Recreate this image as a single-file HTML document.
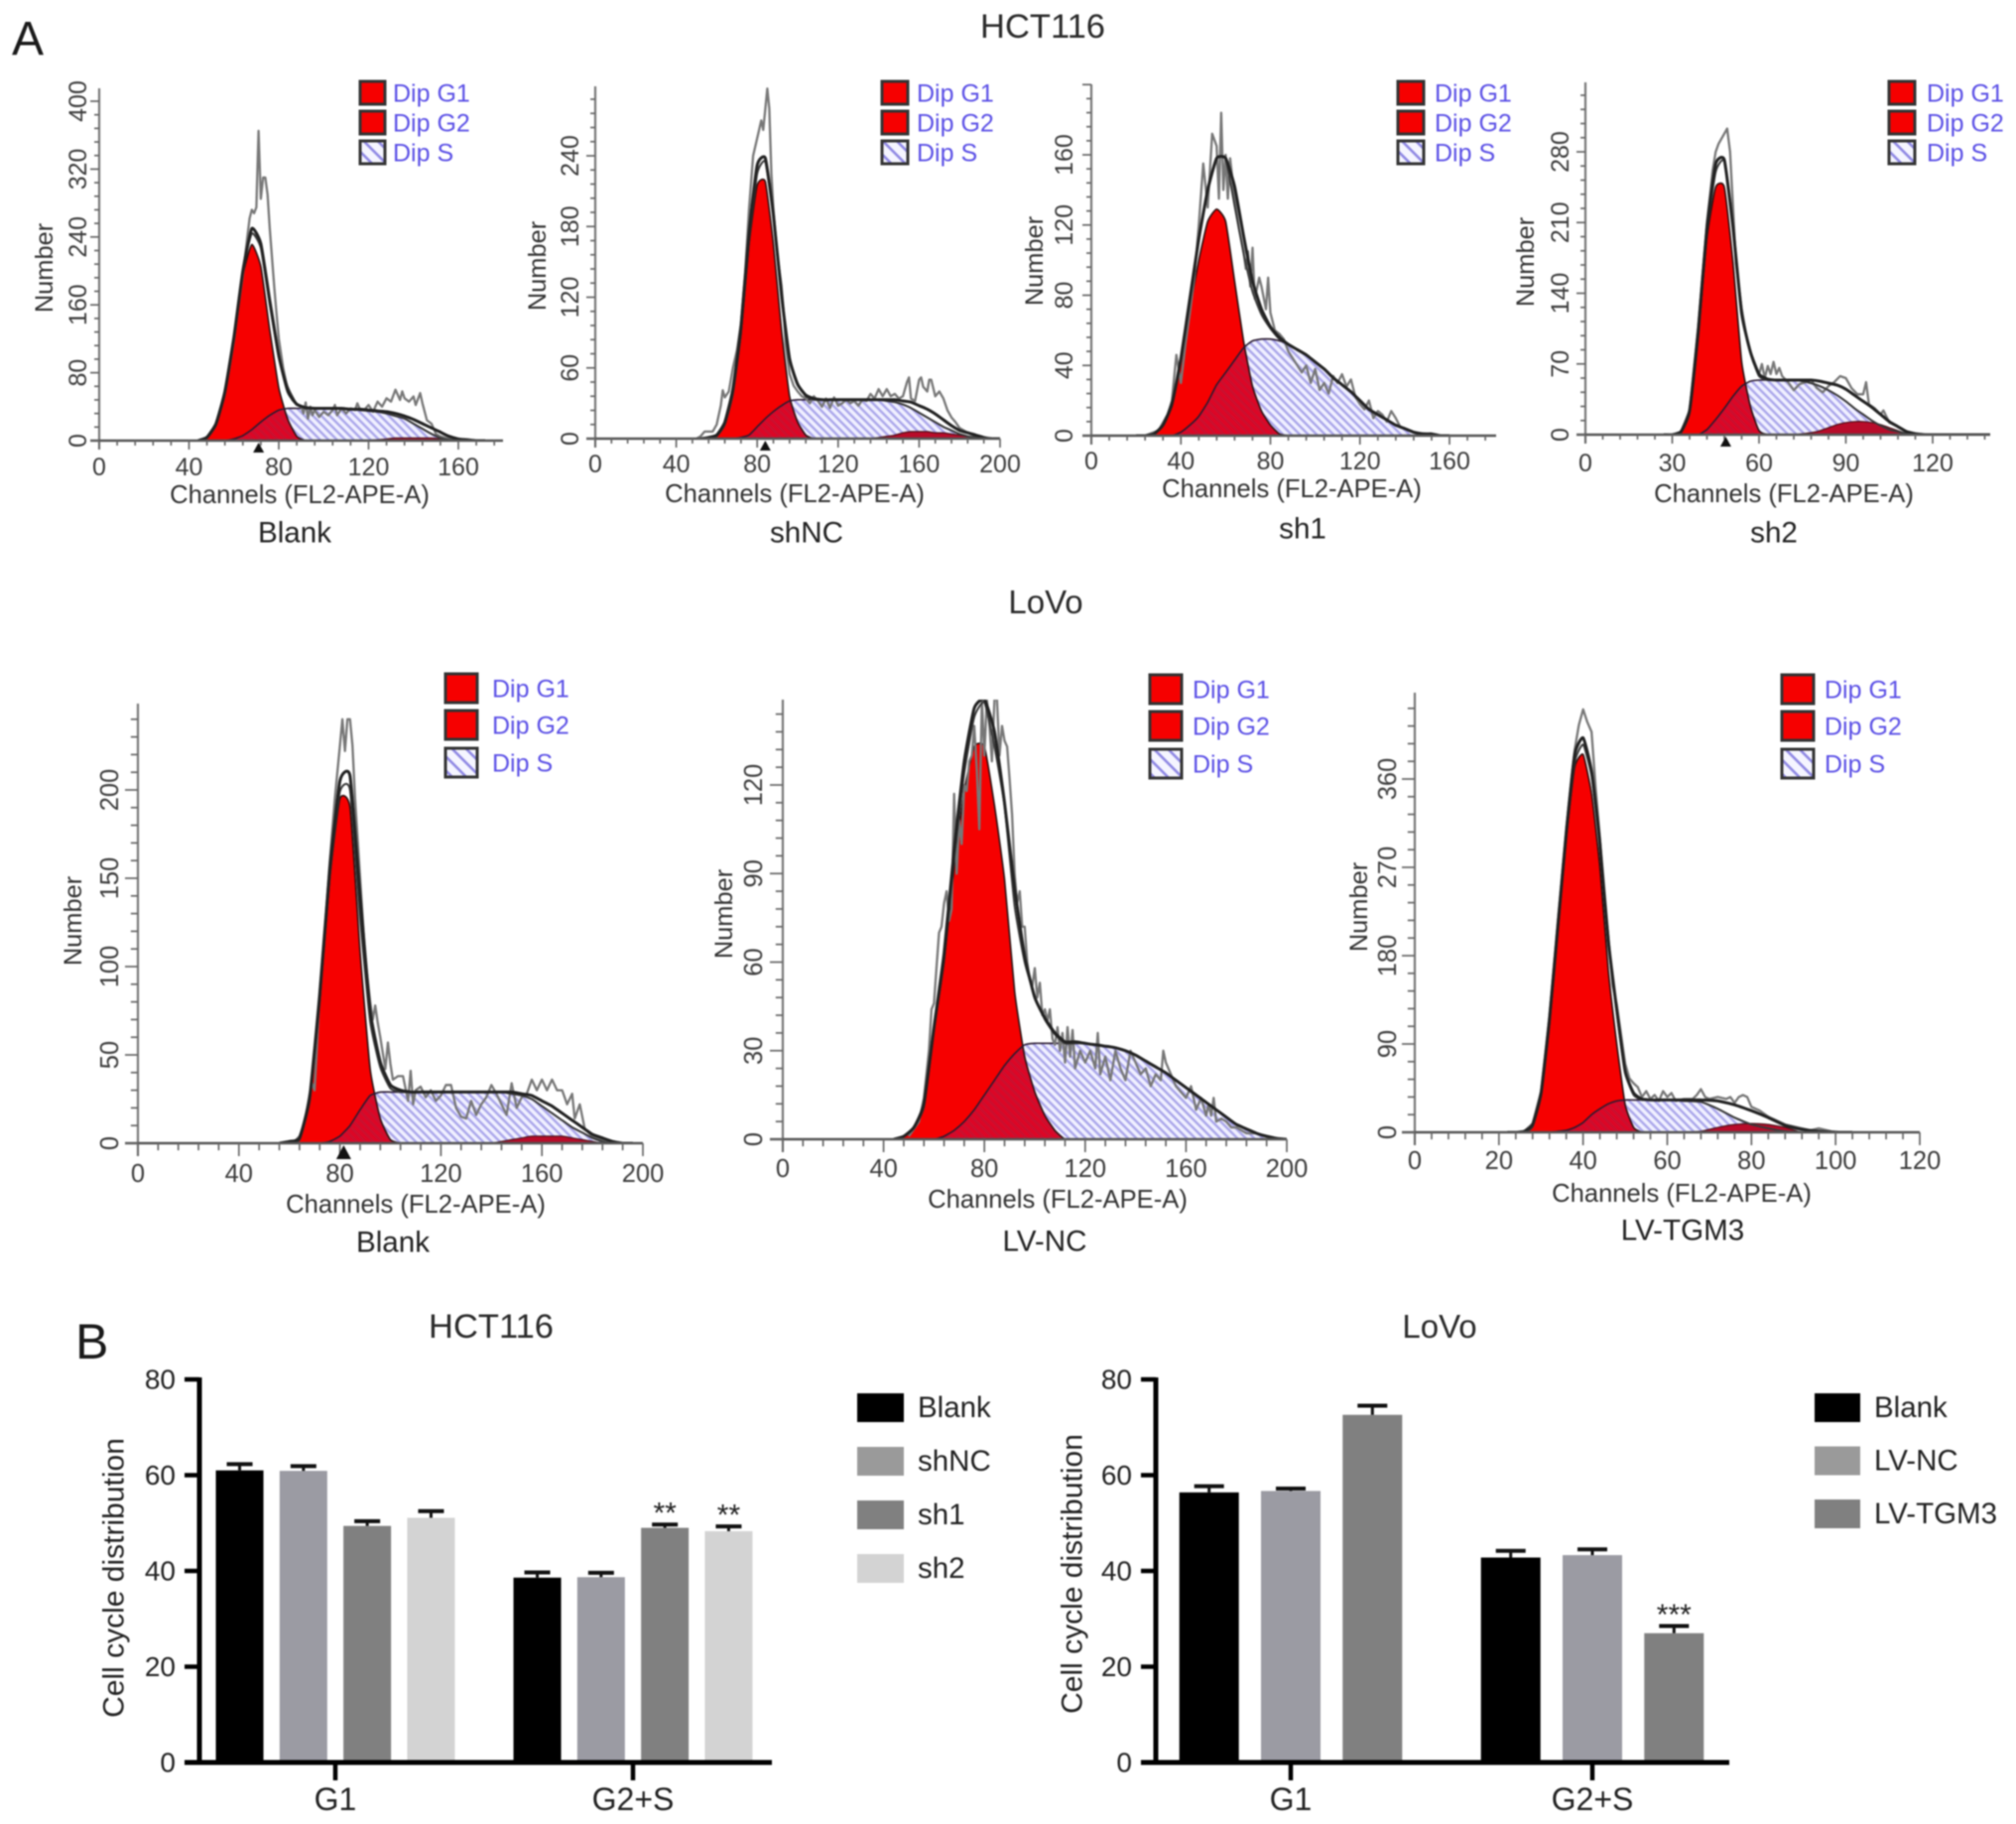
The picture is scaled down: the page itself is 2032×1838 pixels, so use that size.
<!DOCTYPE html>
<html lang="en">
<head>
<meta charset="utf-8">
<title>HCT116 and LoVo cell cycle distribution</title>
<style>
html,body{margin:0;padding:0;background:#fff;width:2032px;height:1838px;overflow:hidden}
svg{display:block;filter:blur(0.75px)}
text{font-family:"Liberation Sans",sans-serif}
</style>
</head>
<body>
<svg id="figure" xmlns="http://www.w3.org/2000/svg" width="2032" height="1838" viewBox="0 0 2032 1838">
  <defs>
    <pattern id="hatch" width="6" height="6" patternUnits="userSpaceOnUse" patternTransform="rotate(45)">
      <rect width="6" height="6" fill="#f0f0ff"/>
      <rect width="6" height="2.4" fill="#aaa6ea"/>
    </pattern>
    <pattern id="hatch-legend" width="10" height="10" patternUnits="userSpaceOnUse" patternTransform="rotate(45)">
      <rect width="10" height="10" fill="#f5f5ff"/>
      <rect width="10" height="2.6" fill="#8f88e4"/>
    </pattern>
    <pattern id="hatch-dark" width="6" height="6" patternUnits="userSpaceOnUse" patternTransform="rotate(45)">
      <rect width="6" height="6" fill="#dc0626"/>
      <rect width="6" height="2.4" fill="#c9102f"/>
    </pattern>
  </defs>
  <text x="12" y="55" font-size="48" fill="#1a1a1a">A</text>
  <text x="1051" y="38" font-size="34.5" fill="#2a2a2a" text-anchor="middle">HCT116</text>
  <text x="1054" y="618" font-size="33" fill="#2a2a2a" text-anchor="middle">LoVo</text>
  <text x="76" y="1369" font-size="50" fill="#1a1a1a">B</text>
  <text x="495" y="1348" font-size="34.5" fill="#2a2a2a" text-anchor="middle">HCT116</text>
  <text x="1451" y="1348" font-size="33" fill="#2a2a2a" text-anchor="middle">LoVo</text>
</svg>
<script>
// ---- Histogram data (channel / count values) ----
const blankChannels = [44,48,52,56,60,64,68,72,76,80,84,88,92,96,100,104,108,112,116,120,124,128,132,136,140,144,148,152,156,160,164,168,172];
const blankG1 = [0,3,18,55,118,195,231,205,130,62,25,5,0,0,0,0,0,0,0,0,0,0,0,0,0,0,0,0,0,0,0,0,0];
const blankS = [0,0,0,0,2,6,13,22,30,36,38,38,38,38,38,38,38,37,36,35,34,32,29,26,20,14,8,3,1,0,0,0,0];
const blankG2 = [0,0,0,0,0,0,0,0,0,0,0,0,0,0,0,0,0,0,0,0.5,1,2,3,3,3,3,3,2,0.5,0,0,0,0];
const blankFit = [0,4,20,58,122,200,250,232,165,100,58,43,39,38,38,38,38,37,37,36,35,34,32,29,25,20,15,10,5,2,1,0,0];
const blankRawCh = [44,46,48,50,52,54,56,58,60,62,64,66,67,68,69,70,71,72,73,74,75,76,77,78,79,80,82,84,86,88,90,91,92,93,94,95,96,98,100,102,104,105,106,108,110,112,114,115,116,118,120,122,124,126,128,130,132,134,135,136,138,140,141,143,144,146,148,150,152,156,160];
const blankRaw = [0,1,4,10,20,36,56,85,118,158,195,240,262,272,268,275,365,285,310,310,290,250,215,180,150,120,85,60,48,42,40,32,45,26,40,30,36,28,34,30,36,42,30,38,32,38,36,44,38,36,42,34,46,40,50,46,60,48,58,50,46,52,42,56,44,24,20,8,5,2,0];
const blankXTicks = [0,40,80,120,160];
const blankYTicks = [0,80,160,240,320,400];

const shncChannels = [52,56,60,64,68,72,76,80,84,88,92,96,100,104,108,112,116,120,124,128,132,136,140,144,148,152,156,160,164,168,172,176,180,184,188,192,196,200];
const shncG1 = [0,0,2,12,38,89,165,215,218,165,92,36,14,3,0,0,0,0,0,0,0,0,0,0,0,0,0,0,0,0,0,0,0,0,0,0,0,0];
const shncS = [0,0,0,0,0,1,3,10,17,23,28,32,33,33,33,33,33,33,33,33,33,33,33,32,31,29,26,22,18,14,10,7,4,2,1,0,0,0];
const shncG2 = [0,0,0,0,0,0,0,0,0,0,0,0,0,0,0,0,0,0,0,0,0,0,1,2,3,5,6,6,6,5,5,4,3,2,1,0,0,0];
const shncFit = [0,1,3,14,42,95,175,232,238,190,122,68,46,37,34,33,33,33,33,33,33,33,33,33,33,32,31,28,25,21,16,11,7,5,3,1,0,0];
const shncRawCh = [50,52,54,56,58,60,62,63,64,66,68,70,72,74,76,78,80,82,83,84,85,86,87,88,90,92,93,94,96,98,100,102,104,106,108,110,112,114,116,118,120,122,124,126,128,130,132,134,136,138,140,142,144,146,148,150,152,154,155,156,158,160,161,162,164,165,166,168,170,172,174,176,178,180,184,188,192];
const shncRaw = [0,2,6,6,6,12,28,41,35,40,60,75,98,140,195,240,255,270,262,280,297,280,225,195,155,130,110,80,55,45,40,36,34,30,36,32,27,34,26,35,28,30,33,30,32,28,33,32,38,34,42,36,42,36,38,34,36,48,52,34,32,50,52,44,40,50,50,36,40,34,24,18,14,9,5,2,0];
const shncXTicks = [0,40,80,120,160,200];
const shncYTicks = [0,60,120,180,240];

const sh1Channels = [20,24,28,32,36,40,44,48,52,56,60,64,68,72,76,80,84,88,92,96,100,104,108,112,116,120,124,128,132,136,140,144,148,152,156,160];
const sh1G1 = [0,0,1,6,18,42,72,100,122,129,122,88,54,28,14,6,1,0,0,0,0,0,0,0,0,0,0,0,0,0,0,0,0,0,0,0];
const sh1S = [0,0,0,0,0,2,6,11,19,29,36,43,50,54,55,55,54,52,49,46,42,38,33,29,25,20,15,12,9,6,4,2,1,0,0,0];
const sh1G2 = [0,0,0,0,0,0,0,0,0,0,0,0,0,0,0,0,0,0,0,0,0,0,0,0,0,0,0,0,0,0,0,0,0,0,0,0];
const sh1Fit = [0,0,1,6,18,44,78,112,140,158,158,142,114,88,72,62,56,52,49,46,42,38,33,29,25,20,15,12,9,6,4,2,1,1,0,0];
const sh1RawCh = [24,30,34,36,38,40,42,44,46,48,50,52,54,56,57,58,59,60,61,62,64,66,68,69,70,71,72,73,75,76,78,79,80,82,84,86,88,90,92,94,96,98,100,102,104,106,108,110,112,114,116,118,120,122,124,126,128,130,132,134,136,138,140,144,150,156];
const sh1Raw = [0,3,12,20,46,30,52,70,90,120,155,130,172,165,135,184,140,160,135,158,135,118,105,95,105,85,107,78,90,85,72,90,70,60,58,55,48,44,40,36,40,30,38,26,30,24,34,30,35,28,32,22,18,15,20,10,14,12,8,14,10,5,4,2,1,0];
const sh1XTicks = [0,40,80,120,160];
const sh1YTicks = [0,40,80,120,160];

const sh2Channels = [27,30,33,36,39,42,45,48,51,54,57,60,63,66,69,72,75,78,81,84,87,90,93,96,99,102,105,108,111,114,117,120,123,126,129,132,135,138,141];
const sh2G1 = [0,0,2,22,98,195,245,245,170,72,28,4,0,0,0,0,0,0,0,0,0,0,0,0,0,0,0,0,0,0,0,0,0,0,0,0,0,0,0];
const sh2S = [0,0,0,0,0,5,15,26,38,48,53,54,54,54,54,54,53,51,48,44,39,33,26,20,14,9,5,3,1,0,0,0,0,0,0,0,0,0,0];
const sh2G2 = [0,0,0,0,0,0,0,0,0,0,0,0,0,0,0,0,1,2,4,7,10,12,13,13,12,10,7,4,1,0,0,0,0,0,0,0,0,0,0];
const sh2Fit = [0,0,3,24,104,205,268,272,205,120,82,60,55,54,54,54,54,54,53,51,49,45,39,33,27,20,13,8,3,1,0,0,0,0,0,0,0,0,0];
const sh2RawCh = [30,33,36,39,42,44,45,46,47,48,49,50,51,52,54,56,58,60,61,62,63,64,65,66,67,68,70,72,74,76,78,80,82,84,86,88,90,92,94,96,97,98,100,102,103,105,108,111,114,120];
const sh2Raw = [0,3,24,108,210,262,280,288,293,298,303,280,225,170,125,92,72,60,70,56,68,60,72,60,66,58,52,44,50,52,54,46,42,48,52,58,56,46,40,40,52,30,26,20,24,12,8,3,1,0];
const sh2XTicks = [0,30,60,90,120];
const sh2YTicks = [0,70,140,210,280];

const lovoBlankChannels = [56,60,64,68,72,76,80,84,88,92,96,100,104,108,112,116,120,124,128,132,136,140,144,148,152,156,160,164,168,172,176,180,184,188,192,196];
const lovoBlankG1 = [0,0,2,24,80,150,195,190,108,42,14,2,0,0,0,0,0,0,0,0,0,0,0,0,0,0,0,0,0,0,0,0,0,0,0,0];
const lovoBlankS = [0,0,0,0,0,1,4,10,19,27,29,29,29,29,29,29,29,29,29,29,29,29,29,28,27,25,21,17,13,9,6,3,1,0,0,0];
const lovoBlankG2 = [0,0,0,0,0,0,0,0,0,0,0,0,0,0,0,0,0,0,0,0,0,0,1,2,3,4,4,4,4,3,2,1,0,0,0,0];
const lovoBlankFit = [0,1,3,26,84,155,205,208,140,75,46,33,30,29,29,29,29,29,29,29,29,29,29,29,28,27,24,21,17,13,9,5,3,1,0,0];
const lovoBlankRawCh = [58,62,64,66,68,69,70,72,74,76,78,80,81,82,83,84,85,86,88,90,92,93,94,95,96,98,99,100,101,103,105,107,108,109,110,112,114,116,118,120,122,124,126,128,130,132,134,136,138,140,142,144,146,148,150,152,154,156,158,160,162,164,166,168,170,172,173,175,177,180,184,190];
const lovoBlankRaw = [0,1,4,12,28,34,30,85,120,160,195,225,240,222,240,240,225,195,150,105,80,70,78,68,60,42,57,45,36,38,38,24,41,22,30,32,26,30,24,27,33,33,20,15,14,24,16,22,26,33,28,22,16,34,20,26,28,36,30,36,30,36,30,30,22,28,14,22,8,4,2,0];
const lovoBlankXTicks = [0,40,80,120,160,200];
const lovoBlankYTicks = [0,50,100,150,200];

const lvNcChannels = [44,48,52,56,60,64,68,72,76,80,84,88,92,96,100,104,108,112,116,120,124,128,132,136,140,144,148,152,156,160,164,168,172,176,180,184,188,192,196,200];
const lvNcG1 = [0,1,4,11,37,60,92,118,133,133,113,88,50,28,16,8,3,0,0,0,0,0,0,0,0,0,0,0,0,0,0,0,0,0,0,0,0,0,0,0];
const lvNcS = [0,0,0,0,0,1,3,6,10,15,20,25,29,32,32.5,32.5,32.5,32.5,32.5,32.5,32,31.5,31,30,28.5,26.5,24.5,22.5,20,17.5,15,12.5,10,7.5,5,3.5,2,1,0.3,0];
const lvNcG2 = [0,0,0,0,0,0,0,0,0,0,0,0,0,0,0,0,0,0,0,0,0,0,0,0,0,0,0,0,0,0,0,0,0,0,0,0,0,0,0,0];
const lvNcFit = [0,1,4,12,38,63,98,128,146,149,138,114,85,62,48,41,36,33,33,32.5,32,31.5,31,30,28.5,26.5,24.5,22.5,20,17.5,15,12.5,10,7.5,5,3.5,2,1,0.3,0];
const lvNcRawCh = [50,54,56,57,58,59,60,61,62,63,64,65,66,67,68,69,70,71,72,73,74,75,76,77,78,79,80,81,82,83,84,85,86,87,88,89,90,91,92,93,94,95,96,97,98,99,100,101,102,103,104,105,106,107,108,109,110,111,112,113,114,115,116,118,120,122,124,125,126,128,130,132,134,136,138,140,142,144,146,148,150,151,152,154,156,158,160,162,164,166,168,169,170,171,172,174,176,178,180,184,188,192,196];
const lvNcRaw = [1,6,14,22,30,44,46,58,70,72,80,84,74,78,117,90,108,100,120,118,128,130,140,125,105,149,130,149,140,128,149,149,130,140,135,133,122,110,90,80,84,72,72,60,54,52,58,48,53,42,44,40,44,34,32,38,30,36,26,38,28,37,24,30,26,30,24,36,22,28,20,30,24,20,30,26,22,24,18,22,20,30,26,22,18,16,14,18,10,14,8,12,8,14,6,7,6,4,4,2,2,1,0];
const lvNcXTicks = [0,40,80,120,160,200];
const lvNcYTicks = [0,30,60,90,120];

const lvTgmChannels = [22,24,26,28,30,32,34,36,38,40,42,44,46,48,50,52,54,56,60,64,68,72,76,80,84,88,92,96,100,104];
const lvTgmG1 = [0,0,0,6,38,110,205,300,372,385,345,270,165,90,28,5,0,0,0,0,0,0,0,0,0,0,0,0,0,0];
const lvTgmS = [0,0,0,0,0,0,1,2,5,10,18,24,29,32,33,33,33,33,33,32,31,24,15,8,4,1,0,0,0,0];
const lvTgmG2 = [0,0,0,0,0,0,0,0,0,0,0,0,0,0,0,0,0,0,0,0,1,5,8,9,8,5,0,0,0,0];
const lvTgmFit = [0,0,1,8,40,115,210,305,385,402,368,295,195,125,62,40,34,33,33,33,33,32,28,22,15,7,3,1,0,0];
const lvTgmRawCh = [26,28,30,32,34,36,38,39,40,41,42,43,44,45,46,47,48,50,51,52,53,54,55,56,57,58,59,60,61,62,64,66,67,68,69,70,72,74,75,76,77,78,79,80,82,84,88,92,94,96,97,99,102];
const lvTgmRaw = [1,9,42,118,215,310,390,415,431,418,408,350,300,240,200,150,130,70,55,50,46,36,42,34,38,32,42,36,40,32,34,34,38,44,36,34,36,34,36,30,36,38,36,26,22,16,8,4,2,4,3,1,0];
const lvTgmXTicks = [0,20,40,60,80,100,120];
const lvTgmYTicks = [0,90,180,270,360];

// ---- Bar chart data ----
const barCategories = ["G1","G2+S"];
const hctGroups = ["Blank","shNC","sh1","sh2"];
const hctG1Values = [61,60.9,49.4,51.1];
const hctG1Errors = [1.3,1,1,1.4];
const hctG2SValues = [38.6,38.7,49,48.3];
const hctG2SErrors = [1.1,0.9,0.7,1];
const hctG2SStars = ["","","**","**"];
const lovoGroups = ["Blank","LV-NC","LV-TGM3"];
const lovoG1Values = [56.4,56.7,72.6];
const lovoG1Errors = [1.3,0.5,1.9];
const lovoG2SValues = [42.8,43.3,27];
const lovoG2SErrors = [1.4,1.2,1.5];
const lovoG2SStars = ["","","***"];
const barYTicks = [0,20,40,60,80];
const legendNames = ["Dip G1","Dip G2","Dip S"];

// ---- Drawing helpers ----
const NS = "http://www.w3.org/2000/svg";
const root = document.getElementById("figure");

function node(parent, tag, attrs, name) {
  const el = document.createElementNS(NS, tag);
  for (const k in attrs) el.setAttribute(k, attrs[k]);
  
  
  parent.appendChild(el);
  return el;
}
function label(parent, x, y, str, size, fill, opts, name) {
  const o = opts || {};
  const a = {x: x, y: y, "font-size": size, fill: fill, "text-anchor": o.anchor || "middle", "dominant-baseline": "central"};
  if (o.rot) a.transform = "rotate(" + o.rot + " " + x + " " + y + ")";
  const el = node(parent, "text", a, name);
  el.textContent = str;
  return el;
}
function smoothPath(px) {
  let d = "M" + px[0][0].toFixed(1) + " " + px[0][1].toFixed(1);
  for (let i = 0; i < px.length - 1; i++) {
    const p0 = px[Math.max(0, i - 1)], p1 = px[i], p2 = px[i + 1], p3 = px[Math.min(px.length - 1, i + 2)];
    const k = (p2[0] - p1[0]) / 6;
    const s1 = (p2[1] - p0[1]) / Math.max(p2[0] - p0[0], 0.01);
    const s2 = (p3[1] - p1[1]) / Math.max(p3[0] - p1[0], 0.01);
    d += "C" + (p1[0] + k).toFixed(1) + " " + (p1[1] + k * s1).toFixed(1) + " " + (p2[0] - k).toFixed(1) + " " + (p2[1] - k * s2).toFixed(1) + " " + p2[0].toFixed(1) + " " + p2[1].toFixed(1);
  }
  return d;
}

function drawPanel(cfg, key) {
  const L = cfg.layout;
  const sx = function (c) { return L.x0 + c * (L.xRefPx - L.x0) / L.xRefVal; };
  const sy = function (v) { return L.y0 - v * (L.y0 - L.yRefPx) / L.yRefVal; };
  const g = node(root, "g", {}, "histogram-" + key);

  const clip = node(g, "clipPath", {id: "plot-" + key}, "plot-clip");
  node(clip, "rect", {x: L.x0, y: L.top, width: L.xEnd - L.x0, height: L.y0 - L.top + 1}, "plot-clip-area");

  const pts = function (vals) { return cfg.channels.map(function (c, i) { return [sx(c), sy(vals[i])]; }); };
  const area = function (vals) {
    const p = pts(vals);
    return smoothPath(p) + "L" + p[p.length - 1][0].toFixed(1) + " " + L.y0 + "L" + p[0][0].toFixed(1) + " " + L.y0 + "Z";
  };
  const marks = node(g, "g", {"clip-path": "url(#plot-" + key + ")"}, "plot-marks");
  const g1Clip = node(marks, "clipPath", {id: "g1-" + key}, "g1-clip");
  node(g1Clip, "path", {d: area(cfg.g1)}, "g1-clip-shape");

  node(marks, "path", {d: area(cfg.s), fill: "url(#hatch)"}, "dip-s-area");
  node(marks, "path", {d: area(cfg.g1), fill: "#f60000"}, "dip-g1-area");
  node(marks, "path", {d: area(cfg.s), fill: "url(#hatch-dark)", "clip-path": "url(#g1-" + key + ")"}, "g1-s-overlap");
  node(marks, "path", {d: area(cfg.g2), fill: "#b80c2a"}, "dip-g2-area");
  node(marks, "path", {d: smoothPath(pts(cfg.g2)), fill: "none", stroke: "#4a1018", "stroke-width": 1.2}, "dip-g2-line");
  node(marks, "path", {d: smoothPath(pts(cfg.g1)), fill: "none", stroke: "#2a1010", "stroke-width": 1.6}, "dip-g1-line");
  node(marks, "path", {d: smoothPath(pts(cfg.s)), fill: "none", stroke: "#2a1a30", "stroke-width": 1.6}, "dip-s-line");

  const rawPts = cfg.rawCh.map(function (c, i) { return sx(c).toFixed(1) + "," + sy(cfg.raw[i]).toFixed(1); }).join(" ");
  node(marks, "polyline", {points: rawPts, fill: "none", stroke: "#777", "stroke-width": 2.3, "stroke-linejoin": "round"}, "raw-histogram-line");

  const envelope = cfg.g1.map(function (v, i) { return v + cfg.s[i]; });
  node(marks, "path", {d: smoothPath(pts(envelope)), fill: "none", stroke: "#3a3a3a", "stroke-width": 2}, "g1-plus-s-line");
  node(marks, "path", {d: smoothPath(pts(cfg.fit)), fill: "none", stroke: "#222", "stroke-width": 3}, "model-fit-line");

  // axes
  const axisColor = "#666";
  node(g, "line", {x1: L.x0, x2: L.x0, y1: L.top, y2: L.y0 + L.major, stroke: "#777", "stroke-width": 2.2}, "y-axis");
  node(g, "line", {x1: L.x0 - L.major, x2: L.xEnd, y1: L.y0, y2: L.y0, stroke: "#555", "stroke-width": 2.6}, "x-axis");
  const xMajor = cfg.xTicks[1] - cfg.xTicks[0];
  const yMajor = cfg.yTicks[1] - cfg.yTicks[0];
  for (let c = 0; sx(c) <= L.xEnd + 0.5; c += xMajor / 5) {
    const isMajor = Math.abs(c / xMajor - Math.round(c / xMajor)) < 0.01;
    node(g, "line", {x1: sx(c), x2: sx(c), y1: L.y0, y2: L.y0 + (isMajor ? L.major : L.major * 0.55), stroke: axisColor, "stroke-width": 1.7}, "x-tick");
  }
  for (let v = 0; sy(v) >= L.top; v += yMajor / 5) {
    const isMajor = Math.abs(v / yMajor - Math.round(v / yMajor)) < 0.01;
    node(g, "line", {x1: L.x0 - (isMajor ? L.major : L.major * 0.55), x2: L.x0, y1: sy(v), y2: sy(v), stroke: axisColor, "stroke-width": 1.7}, "y-tick");
  }
  cfg.xTicks.forEach(function (t) {
    label(g, sx(t), L.xTickY, String(t), L.tick, "#3c3c3c", null, "x-tick-label");
  });
  cfg.yTicks.forEach(function (t) {
    label(g, L.yTickX, sy(t), String(t), L.tick, "#3c3c3c", {rot: -90}, "y-tick-label");
  });
  label(g, L.numX, L.numY, "Number", 25.4, "#333", {rot: -90}, "y-axis-title");
  label(g, L.chX, L.chY, "Channels (FL2-APE-A)", 25.6, "#333", null, "x-axis-title");
  label(g, L.subX, L.subY, cfg.title, 29.6, "#222", null, "panel-title");

  // peak marker
  if (cfg.marker !== null) {
    const mx = sx(cfg.marker);
    const w = L.markW;
    node(g, "polygon", {points: (mx - w) + "," + (L.y0 + w * 2 + 1) + " " + (mx + w) + "," + (L.y0 + w * 2 + 1) + " " + mx + "," + (L.y0 + 2), fill: "#111"}, "peak-marker");
  }

  // legend
  legendNames.forEach(function (nm, i) {
    const row = node(g, "g", {}, "legend-entry");
    const fill = i === 2 ? "url(#hatch-legend)" : "#f60000";
    node(row, "rect", {x: L.legX, y: L.legY[i], width: L.legW, height: L.legH, fill: fill, stroke: "#333", "stroke-width": 3}, "legend-swatch");
    label(row, L.legTextX, L.legY[i] + L.legH / 2 + 1, nm, 25, "#5b50e6", {anchor: "start"}, "legend-label");
  });
}

const panels = [
  {key: "hct-blank", title: "Blank", channels: blankChannels, g1: blankG1, s: blankS, g2: blankG2, fit: blankFit, rawCh: blankRawCh, raw: blankRaw, xTicks: blankXTicks, yTicks: blankYTicks, marker: 71,
   layout: {x0: 100, xRefPx: 462, xRefVal: 160, xEnd: 507, y0: 444, yRefPx: 102, yRefVal: 400, top: 89, xTickY: 471, yTickX: 79, tick: 25, major: 9, markW: 5.5, numX: 45, numY: 270, chX: 302, chY: 499, subX: 297, subY: 537, legX: 363, legW: 25, legH: 23, legY: [82, 112, 142], legTextX: 396}},
  {key: "hct-shnc", title: "shNC", channels: shncChannels, g1: shncG1, s: shncS, g2: shncG2, fit: shncFit, rawCh: shncRawCh, raw: shncRaw, xTicks: shncXTicks, yTicks: shncYTicks, marker: 84,
   layout: {x0: 600, xRefPx: 1008, xRefVal: 200, xEnd: 1008, y0: 442, yRefPx: 157, yRefVal: 240, top: 87, xTickY: 468, yTickX: 575, tick: 25, major: 9, markW: 5.5, numX: 542, numY: 268, chX: 801, chY: 498, subX: 813, subY: 537, legX: 889, legW: 26, legH: 23, legY: [82, 112, 142], legTextX: 924}},
  {key: "hct-sh1", title: "sh1", channels: sh1Channels, g1: sh1G1, s: sh1S, g2: sh1G2, fit: sh1Fit, rawCh: sh1RawCh, raw: sh1Raw, xTicks: sh1XTicks, yTicks: sh1YTicks, marker: null,
   layout: {x0: 1100, xRefPx: 1461, xRefVal: 160, xEnd: 1508, y0: 439, yRefPx: 156, yRefVal: 160, top: 85, xTickY: 465, yTickX: 1073, tick: 25, major: 9, markW: 5.5, numX: 1043, numY: 263, chX: 1302, chY: 493, subX: 1313, subY: 533, legX: 1409, legW: 26, legH: 23, legY: [82, 112, 142], legTextX: 1446}},
  {key: "hct-sh2", title: "sh2", channels: sh2Channels, g1: sh2G1, s: sh2S, g2: sh2G2, fit: sh2Fit, rawCh: sh2RawCh, raw: sh2Raw, xTicks: sh2XTicks, yTicks: sh2YTicks, marker: 48.5,
   layout: {x0: 1598, xRefPx: 1948, xRefVal: 120, xEnd: 2006, y0: 438, yRefPx: 153, yRefVal: 280, top: 83, xTickY: 467, yTickX: 1573, tick: 25, major: 9, markW: 5.5, numX: 1538, numY: 264, chX: 1798, chY: 498, subX: 1788, subY: 537, legX: 1904, legW: 26, legH: 23, legY: [82, 112, 142], legTextX: 1942}},
  {key: "lovo-blank", title: "Blank", channels: lovoBlankChannels, g1: lovoBlankG1, s: lovoBlankS, g2: lovoBlankG2, fit: lovoBlankFit, rawCh: lovoBlankRawCh, raw: lovoBlankRaw, xTicks: lovoBlankXTicks, yTicks: lovoBlankYTicks, marker: 81.5,
   layout: {x0: 139, xRefPx: 648, xRefVal: 200, xEnd: 648, y0: 1152, yRefPx: 796, yRefVal: 200, top: 709, xTickY: 1183, yTickX: 111, tick: 25.5, major: 13, markW: 7.5, numX: 74, numY: 928, chX: 419, chY: 1214, subX: 396, subY: 1252, legX: 449, legW: 32, legH: 29, legY: [679, 716, 754], legTextX: 496}},
  {key: "lovo-lv-nc", title: "LV-NC", channels: lvNcChannels, g1: lvNcG1, s: lvNcS, g2: lvNcG2, fit: lvNcFit, rawCh: lvNcRawCh, raw: lvNcRaw, xTicks: lvNcXTicks, yTicks: lvNcYTicks, marker: null,
   layout: {x0: 789, xRefPx: 1297, xRefVal: 200, xEnd: 1297, y0: 1148, yRefPx: 791, yRefVal: 120, top: 705, xTickY: 1178, yTickX: 760, tick: 25.5, major: 13, markW: 7.5, numX: 730, numY: 921, chX: 1066, chY: 1209, subX: 1053, subY: 1251, legX: 1159, legW: 32, legH: 29, legY: [680, 717, 755], legTextX: 1202}},
  {key: "lovo-lv-tgm3", title: "LV-TGM3", channels: lvTgmChannels, g1: lvTgmG1, s: lvTgmS, g2: lvTgmG2, fit: lvTgmFit, rawCh: lvTgmRawCh, raw: lvTgmRaw, xTicks: lvTgmXTicks, yTicks: lvTgmYTicks, marker: null,
   layout: {x0: 1426, xRefPx: 1935, xRefVal: 120, xEnd: 1935, y0: 1141, yRefPx: 785, yRefVal: 360, top: 698, xTickY: 1170, yTickX: 1399, tick: 25.5, major: 13, markW: 7.5, numX: 1370, numY: 914, chX: 1695, chY: 1203, subX: 1696, subY: 1240, legX: 1796, legW: 32, legH: 29, legY: [680, 717, 755], legTextX: 1839}}
];
panels.forEach(function (p) { drawPanel(p, p.key); });

// ---- Bar charts ----
const barColors = ["#000000", "#9b9ba3", "#808080", "#d3d3d3"];
const legendColors = ["#000000", "#9a9a9a", "#808080", "#d3d3d3"];

function drawBars(cfg) {
  const L = cfg.layout;
  const y = function (v) { return L.y0 - v * (L.y0 - L.y80) / 80; };
  const g = node(root, "g", {}, "bar-chart-" + cfg.key);
  const offset = (cfg.groups.length - 1) / 2;

  barCategories.forEach(function (cat, ci) {
    const center = L.centers[ci];
    cfg.values[ci].forEach(function (v, i) {
      const cx = center + (i - offset) * L.pitch;
      node(g, "rect", {x: cx - L.barW / 2, y: y(v), width: L.barW, height: L.y0 - y(v), fill: barColors[i]}, "bar-" + cat.toLowerCase().replace("+", "-") + "-" + cfg.groups[i].toLowerCase());
      const top = y(v + cfg.errors[ci][i]);
      node(g, "line", {x1: cx, x2: cx, y1: y(v), y2: top, stroke: "#111", "stroke-width": 3}, "error-bar-stem");
      node(g, "line", {x1: cx - L.cap, x2: cx + L.cap, y1: top, y2: top, stroke: "#111", "stroke-width": 4}, "error-bar-cap");
      const star = cfg.stars[ci][i];
      if (star) {
        label(g, cx, top - 11, star, 30, "#222", null, "significance-stars");
      }
    });
    node(g, "line", {x1: center, x2: center, y1: L.y0, y2: L.y0 + 18, stroke: "#000", "stroke-width": 4.5}, "x-tick");
    label(g, center, L.catY, cat, 32, "#222", null, "category-label");
  });

  node(g, "line", {x1: L.x0, x2: L.x0, y1: L.y80 - 2, y2: L.y0 + 2, stroke: "#000", "stroke-width": 5}, "y-axis");
  node(g, "line", {x1: L.x0 - 15, x2: L.xEnd, y1: L.y0, y2: L.y0, stroke: "#000", "stroke-width": 5}, "x-axis");
  barYTicks.forEach(function (t) {
    node(g, "line", {x1: L.x0 - 15, x2: L.x0, y1: y(t), y2: y(t), stroke: "#000", "stroke-width": 4.5}, "y-tick");
    label(g, L.tickRight, y(t), String(t), 28, "#222", {anchor: "end"}, "y-tick-label");
  });
  label(g, L.titleX, L.titleY, "Cell cycle distribution", 30, "#222", {rot: -90}, "y-axis-title");

  cfg.groups.forEach(function (nm, i) {
    const row = node(g, "g", {}, "legend-entry");
    node(row, "rect", {x: L.legX, y: L.legY + i * L.legStep, width: L.legW, height: 29, fill: legendColors[i]}, "legend-swatch");
    label(row, L.legTextX, L.legY + i * L.legStep + 14.5, nm, 29.5, "#222", {anchor: "start"}, "legend-label");
  });
}

drawBars({key: "hct116", groups: hctGroups, values: [hctG1Values, hctG2SValues], errors: [hctG1Errors, hctG2SErrors], stars: [["","","",""], hctG2SStars],
  layout: {x0: 201, y0: 1776, y80: 1390, xEnd: 778, centers: [338, 638], pitch: 64.3, barW: 48, cap: 13, catY: 1813, tickRight: 177, titleX: 115, titleY: 1590, legX: 864, legY: 1404, legStep: 54, legW: 47, legTextX: 925}});
drawBars({key: "lovo", groups: lovoGroups, values: [lovoG1Values, lovoG2SValues], errors: [lovoG1Errors, lovoG2SErrors], stars: [["","",""], lovoG2SStars],
  layout: {x0: 1165, y0: 1776, y80: 1390, xEnd: 1743, centers: [1301, 1605], pitch: 82.3, barW: 60, cap: 15, catY: 1813, tickRight: 1141, titleX: 1081, titleY: 1586, legX: 1829, legY: 1404, legStep: 53.5, legW: 46, legTextX: 1889}});
</script>
</body>
</html>
